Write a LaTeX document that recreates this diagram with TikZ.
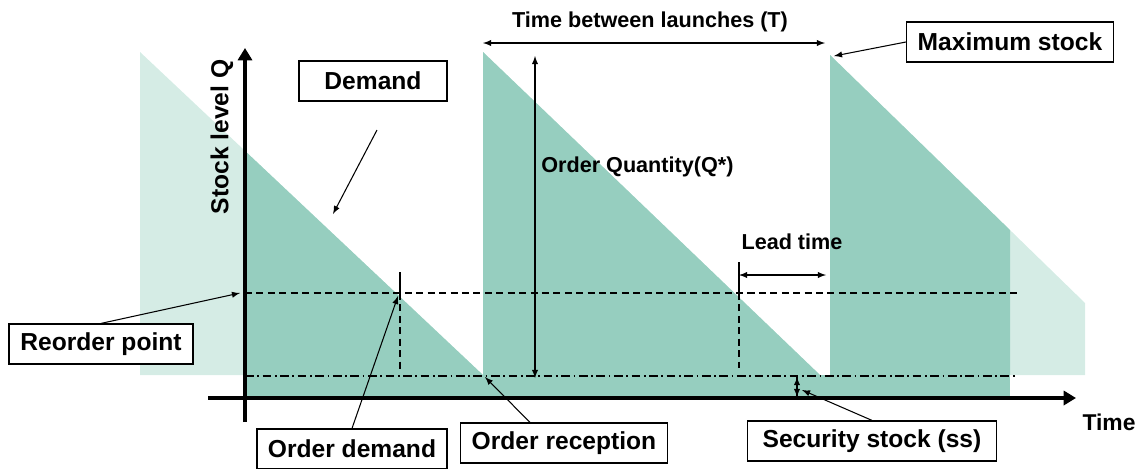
\documentclass[tikz,border=0pt]{standalone}
\usepackage{fontspec}
\setmainfont{Liberation Sans}
\usetikzlibrary{arrows.meta,calc}
\definecolor{stockdark}{HTML}{96CEBF}
\definecolor{stocklight}{HTML}{D5ECE5}

\begin{document}
\begin{tikzpicture}[
  x=0.02cm, y=-0.02cm,
  box/.style={rectangle, draw, fill=white, line width=0.7pt, inner sep=0pt, minimum width=#1, minimum height=0.8cm, font=\fontsize{14}{16}\selectfont\bfseries},
  caption/.style={inner sep=0pt, font=\fontsize{#1}{15}\selectfont\bfseries},
  axis/.style={-{Triangle[length=7pt,width=8pt]}, line width=2.2pt},
  pointer/.style={-latex, line width=0.6pt},
  span/.style={latex-latex, line width=0.6pt},
  reorder/.style={line width=0.6pt, dash pattern=on 4pt off 2.5pt},
  safety/.style={line width=0.6pt, dash pattern=on 5pt off 2pt on 1pt off 2pt}
]
  \useasboundingbox (0,0) rectangle (1143,468);

  % stock curve, pale outside the axes
  \fill[stocklight] (140,52) -- (483,375) -- (483,52) -- (820,375) -- (830,375) -- (830,55)
    -- (1085,303) -- (1085,375) -- (140,375) -- cycle;
  \begin{scope}
    \clip (245,0) rectangle (1010,398);
    \fill[stockdark] (140,52) -- (483,375) -- (483,52) -- (820,375) -- (830,375) -- (830,55)
      -- (1085,303) -- (1085,375) -- (140,375) -- cycle;
    \fill[stockdark] (245,375) rectangle (1010,398);
  \end{scope}

  \draw[reorder] (245,293) -- (1020,293);
  \draw[safety] (245,376) -- (1018,376);
  \draw[line width=0.6pt] (400,272) -- (400,293);
  \draw[reorder] (400,293) -- (400,370);
  \draw[line width=0.6pt] (739,262) -- (739,293);
  \draw[reorder] (739,293) -- (739,368);

  \draw[axis] (245,422) -- (245,48);
  \draw[axis] (208,398) -- (1076,398);

  \node[caption=14, rotate=90] (stocklbl) at (222,137) {Stock level Q};
  \node[caption=13] (timelbl) at (1109,422) {Time};
  \node[caption=12.3] (periodlbl) at (650,22) {Time between launches (T)};
  \node[caption=12.3, anchor=west] (qtylbl) at (541,167) {Order Quantity(Q*)};
  \node[caption=12.3] (leadlbl) at (792,242) {Lead time};

  \coordinate (launch1) at (483,43);
  \coordinate (launch2) at (825,43);
  \coordinate (qtop) at (535,56);
  \coordinate (qbot) at (535,378);
  \coordinate (lead1) at (739,275);
  \coordinate (lead2) at (826,275);
  \coordinate (ss1) at (797,377);
  \coordinate (ss2) at (797,397);
  \draw[span] (launch1) -- (launch2);
  \draw[span] (qtop) -- (qbot);
  \draw[span] (lead1) -- (lead2);
  \draw[-latex, line width=0.6pt] (ss2) -- (ss1);
  \draw[-latex, line width=0.6pt] (ss1) -- (ss2);

  \node[box=2.96cm] (demand)   at (373,81)  {Demand};
  \node[box=4.14cm] (maxstock) at (1010,42) {Maximum stock};
  \node[box=3.68cm] (rop)      at (101,344) {Reorder point};
  \node[box=3.8cm]  (orddem)   at (352,449) {Order demand};
  \node[box=4.14cm] (ordrec)   at (564,443) {Order reception};
  \node[box=4.98cm] (secstock) at (872,441) {Security stock (ss)};

  \coordinate (demandtail) at (377,130);
  \coordinate (demandtip) at (333,214);
  \coordinate (peak) at (834,56);
  \coordinate (roplevel) at (240,293);
  \coordinate (reorderpt) at (398,296);
  \coordinate (arrival) at (485,377);
  \coordinate (sslevel) at (802,390);

  \draw[pointer] (demandtail) -- (demandtip);
  \draw[pointer] (maxstock.west) -- (peak);
  \draw[pointer] (rop.north) -- (roplevel);
  \draw[pointer] (orddem.north) -- (reorderpt);
  \draw[pointer] ($(ordrec.north)+(-34,0)$) -- (arrival);
  \draw[pointer] (secstock.north) -- (sslevel);
\end{tikzpicture}
\end{document}
